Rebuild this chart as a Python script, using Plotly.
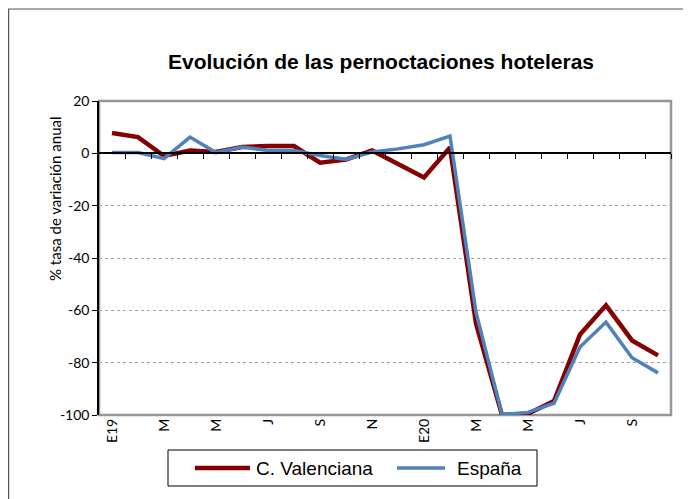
import plotly.graph_objects as go

# Monthly series, Jan 2019 - Oct 2020
months = ["E19", "F", "M", "A", "M", "J", "J", "A", "S", "O", "N", "D",
          "E20", "F", "M", "A", "M", "J", "J", "A", "S", "O"]
tick_labels = ["E19", "M", "M", "J", "S", "N", "E20", "M", "M", "J", "S"]
y_ticks = [-100, -80, -60, -40, -20, 0, 20]
c_valenciana = [7.8, 6.2, -1.0, 1.1, 0.5, 2.4, 2.8, 2.8, -3.6, -2.4, 1.1, -3.9,
                -9.2, 2.2, -65.0, -100.0, -99.5, -94.7, -69.2, -58.1, -71.5, -77.2]
espana = [0.3, 0.3, -2.0, 6.2, 0.3, 2.4, 1.1, 1.1, -0.8, -2.3, 0.5, 1.7,
          3.3, 6.6, -60.7, -99.8, -99.0, -95.5, -74.0, -64.5, -78.1, -83.9]

RED = "#850000"
BLUE = "#4F81BD"

x = list(range(len(months)))
n = len(months)

# page is offset by the 8px body margin, so the figure is a bit smaller
W, H = 683, 491
L, R, T, B = 91, 20, 93, 84
pw, ph = W - L - R, H - T - B


def px_x(v):
    return (v - L) / pw


def px_y(v):
    return (H - B - v) / ph


fig = go.Figure()
fig.add_trace(go.Scatter(x=x, y=c_valenciana, name="C. Valenciana", mode="lines",
                         line=dict(color=RED, width=4.5), showlegend=False))
fig.add_trace(go.Scatter(x=x, y=espana, name="España", mode="lines",
                         line=dict(color=BLUE, width=3.5), showlegend=False))
# invisible helper trace so the zero-line axis gets drawn
fig.add_trace(go.Scatter(x=[0], y=[0], xaxis="x2", mode="markers",
                         marker=dict(opacity=0), showlegend=False, hoverinfo="skip"))

fig.update_layout(
    width=W, height=H,
    margin=dict(l=L, r=R, t=T, b=B),
    paper_bgcolor="white", plot_bgcolor="white",
    title=dict(text="<b>Evolución de las pernoctaciones hoteleras</b>",
               xref="container", x=373 / W, xanchor="center",
               y=1 - 54 / H, yanchor="middle",
               font=dict(family="Liberation Sans, Arial", size=21, color="black")),
    xaxis=dict(range=[-0.5, n - 0.5], tickvals=x[::2], ticktext=tick_labels,
               tickangle=-90, ticks="", showgrid=False, zeroline=False,
               showline=False,
               tickfont=dict(family="Lato, Open Sans", size=14, color="black")),
    xaxis2=dict(overlaying="x", anchor="free", position=100 / 120,
                range=[-0.5, n - 0.5], tickvals=[i + 0.5 for i in x],
                showticklabels=False, ticks="outside", ticklen=5,
                tickcolor="black", showline=True, linecolor="black",
                linewidth=1.5, showgrid=False, zeroline=False),
    yaxis=dict(range=[-100, 20], tickvals=y_ticks, ticktext=[str(v) for v in y_ticks],
               ticks="outside", ticklen=5, tickcolor="black",
               showline=True, linecolor="black", linewidth=1.5,
               showgrid=True, gridcolor="#A6A6A6", griddash="dot", gridwidth=1,
               zeroline=False,
               tickfont=dict(family="Lato, Open Sans", size=14, color="black")),
    showlegend=False,
)

# y axis title sits above the centre, as in the original
fig.add_annotation(text="% tasa de variación anual", textangle=-90,
                   xref="paper", yref="paper", x=px_x(47), y=px_y(191),
                   showarrow=False, xanchor="center", yanchor="middle",
                   font=dict(family="Lato, Open Sans", size=15, color="black"))

# grey frame around the plot area
fig.add_shape(type="rect", xref="paper", yref="paper", x0=0, x1=1, y0=0, y1=1,
              line=dict(color="#969696", width=2.5), layer="below")
# outer chart frame
fig.add_shape(type="rect", xref="paper", yref="paper",
              x0=px_x(0.6), x1=px_x(W + 20), y0=px_y(H + 20), y1=px_y(1),
              line=dict(color="#555555", width=1.2), layer="below")

# legend box drawn by hand (longer line keys than plotly's own legend)
fig.add_shape(type="rect", xref="paper", yref="paper",
              x0=px_x(160), x1=px_x(529), y0=px_y(478), y1=px_y(442),
              line=dict(color="black", width=1), fillcolor="white")
legend_items = [("C. Valenciana", RED, 4.5, 187, 242, 246),
                ("España", BLUE, 3.5, 389, 437, 447)]
for label, color, lw, lx0, lx1, tx in legend_items:
    fig.add_shape(type="line", xref="paper", yref="paper",
                  x0=px_x(lx0), x1=px_x(lx1), y0=px_y(460), y1=px_y(460),
                  line=dict(color=color, width=lw))
    fig.add_annotation(text=label, xref="paper", yref="paper",
                       x=px_x(tx), y=px_y(460), showarrow=False,
                       xanchor="left", yanchor="middle",
                       font=dict(family="Liberation Sans, Arial", size=19, color="black"))

fig.write_html("out.html")
